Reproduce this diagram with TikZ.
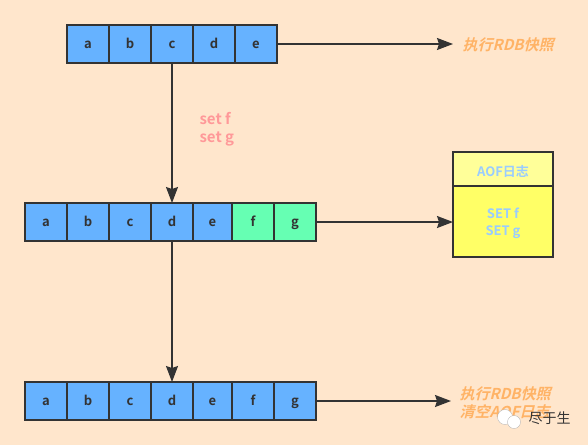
\documentclass[tikz,border=0pt]{standalone}
\usepackage{fontspec}
\setmainfont{Noto Sans CJK SC Bold}
\newfontfamily\notefont[FakeSlant=0.25]{Noto Sans CJK SC Bold}
\newfontfamily\markfont{Noto Sans CJK SC}
\usetikzlibrary{arrows.meta,positioning}
\definecolor{bgcolor}{HTML}{FFE6CC}
\definecolor{linecolor}{HTML}{333333}
\definecolor{cellblue}{HTML}{66B2FF}
\definecolor{cellgreen}{HTML}{66FFB3}
\definecolor{loghead}{HTML}{FFFF99}
\definecolor{logbody}{HTML}{FFFF66}
\definecolor{logtext}{HTML}{99CCFF}
\definecolor{cmdtext}{HTML}{FF9999}
\definecolor{notetext}{HTML}{FFB366}

\begin{document}
\begin{tikzpicture}[
    x=1pt,y=-1pt,
    cell/.style={rectangle,draw=linecolor,line width=1.5pt,fill=cellblue,minimum width=42pt,minimum height=38pt,outer sep=0pt,inner sep=0pt,text=linecolor,text height=9pt,text depth=0pt,font=\fontsize{13}{15}\selectfont},
    newcell/.style={cell,fill=cellgreen},
    arrow/.style={-{Stealth[length=16pt,width=12pt,inset=2pt]},line width=1.5pt,draw=linecolor},
    logbox/.style={rectangle,draw=linecolor,line width=1.5pt,minimum width=100pt,outer sep=0pt,inner sep=0pt},
    logstyle/.style={align=center,yshift=-2pt,text=logtext,font=\fontsize{13}{17}\selectfont},
    notestyle/.style={anchor=west,align=left,text=notetext,font=\fontsize{15}{18}\selectfont\notefont},
    cmdstyle/.style={anchor=west,align=left,text=cmdtext,font=\fontsize{15}{18}\selectfont}
]
\useasboundingbox[fill=bgcolor] (0,0) rectangle (588,445);

% first row
\node[cell,anchor=north west] (Aa) at (67,25) {a};
\node[cell,right=0pt of Aa] (Ab) {b};
\node[cell,right=0pt of Ab] (Ac) {c};
\node[cell,right=0pt of Ac] (Ad) {d};
\node[cell,right=0pt of Ad] (Ae) {e};

% second row
\node[cell,anchor=north west] (Ba) at (25,203) {a};
\node[cell,right=0pt of Ba] (Bb) {b};
\node[cell,right=0pt of Bb] (Bc) {c};
\node[cell,right=0pt of Bc] (Bd) {d};
\node[cell,minimum width=39pt,right=0pt of Bd] (Be) {e};
\node[newcell,right=0pt of Be] (Bf) {f};
\node[newcell,right=0pt of Bf] (Bg) {g};

% third row
\node[cell,anchor=north west] (Ca) at (25,382) {a};
\node[cell,right=0pt of Ca] (Cb) {b};
\node[cell,right=0pt of Cb] (Cc) {c};
\node[cell,right=0pt of Cc] (Cd) {d};
\node[cell,minimum width=39pt,right=0pt of Cd] (Ce) {e};
\node[cell,right=0pt of Ce] (Cf) {f};
\node[cell,right=0pt of Cf] (Cg) {g};

% log box
\node[logbox,fill=loghead,minimum height=34pt,anchor=north west] (LogHead) at (453,152) {};
\node[logbox,fill=logbody,minimum height=71pt,below=0pt of LogHead] (LogBody) {};
\node[logstyle] (LogTitle) at (LogHead) {AOF日志};
\node[logstyle] (LogCmd) at (LogBody) {SET f\\SET g};

% labels
\node[cmdstyle] (Cmd) at (196,129) {set f\\set g};
\node[notestyle] (NoteA) at (459,45) {执行RDB快照};
\node[notestyle] (NoteC) at (456,403) {执行RDB快照\\清空AOF日志};

\coordinate (EndA) at (453,44);
\coordinate (EndC) at (451,401);

\draw[arrow] (Ae) -- (EndA);
\draw[arrow] (Ac) -- (Bd);
\draw[arrow] (Bg) -- (Bg -| LogBody.west);
\draw[arrow] (Bd) -- (Cd);
\draw[arrow] (Cg) -- (EndC);

% watermark
\node[circle,fill=white,draw=linecolor!40,line width=.3pt,minimum size=15pt,inner sep=0pt] (MarkA) at (505,417) {};
\node[circle,fill=white,draw=linecolor!40,line width=.3pt,minimum size=13pt,inner sep=0pt] (MarkB) at (514,422) {};
\node[anchor=west,text=linecolor,font=\fontsize{14}{16}\selectfont\markfont] (Mark) at (525,418) {尽于生};
\end{tikzpicture}
\end{document}
